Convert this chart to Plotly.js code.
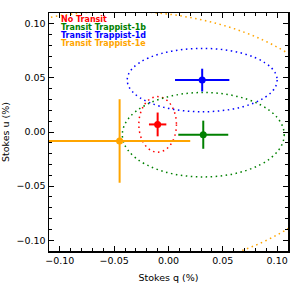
<!DOCTYPE html>
<html><head><meta charset="utf-8">
<script src="https://cdn.plot.ly/plotly-3.0.1.min.js"></script>
<style>html,body{margin:0;padding:0;background:#fff}</style>
</head><body><div id="chart" style="width:291px;height:291px"></div>
<script>
const names = ['No Transit', 'Transit Trappist-1b', 'Transit Trappist-1d', 'Transit Trappist-1e'];
const colors = ['#ff0000', '#008000', '#0000ff', '#ffa500'];
const qVals = [-0.010, 0.032, 0.031, -0.045];
const uVals = [0.007, -0.0025, 0.048, -0.0083];
const qErr = [0.008, 0.023, 0.025, 0.065];
const uErr = [0.011, 0.013, 0.0105, 0.0386];
const ellQ = [0.0173, 0.0745, 0.069, 0.21];
const ellU = [0.0257, 0.039, 0.0293, 0.12];
const tickVals = [-0.10, -0.05, 0.00, 0.05, 0.10];

const font = {family: 'DejaVu Sans', size: 9.5, color: '#000'};

const traces = names.map((n, i) => ({
  type: 'scatter', mode: 'markers', name: n,
  x: [qVals[i]], y: [uVals[i]],
  marker: {color: colors[i], size: 7},
  error_x: {type: 'data', array: [qErr[i]], color: colors[i], thickness: 2, width: 0},
  error_y: {type: 'data', array: [uErr[i]], color: colors[i], thickness: 2, width: 0},
  showlegend: false, cliponaxis: true
}));

const shapes = names.map((n, i) => ({
  type: 'circle', xref: 'x', yref: 'y', layer: 'below',
  x0: qVals[i] - ellQ[i], x1: qVals[i] + ellQ[i],
  y0: uVals[i] - ellU[i], y1: uVals[i] + ellU[i],
  line: {color: colors[i], width: 1.5, dash: '1.5px,3.5px'}
}));

const legendY = [0.9735, 0.94, 0.906, 0.872];
const annotations = names.map((n, i) => ({
  xref: 'paper', yref: 'paper', x: 0.046, y: legendY[i],
  xanchor: 'left', yanchor: 'middle', showarrow: false, borderpad: 0,
  text: '<b>' + n + '</b>',
  font: {family: 'DejaVu Sans', size: 8, color: colors[i]}
}));

const axisCommon = {
  range: [-0.11, 0.11], tickvals: tickVals, tickformat: '.2f',
  ticks: 'inside', ticklen: 5, tickwidth: 1, tickcolor: '#000',
  showline: true, linewidth: 1.5, linecolor: '#000', mirror: 'allticks',
  minor: {dtick: 0.01, tick0: 0, ticks: 'inside', ticklen: 3, tickwidth: 1, tickcolor: '#000'},
  showgrid: false, zeroline: false, tickfont: font, automargin: false
};

const layout = {
  width: 291, height: 291,
  margin: {l: 49, r: 3, t: 13, b: 40},
  paper_bgcolor: '#fff', plot_bgcolor: '#fff',
  xaxis: Object.assign({}, axisCommon, {title: {text: 'Stokes q (%)', font: font, standoff: 9}}),
  yaxis: Object.assign({}, axisCommon, {title: {text: 'Stokes u (%)', font: font, standoff: 8}}),
  shapes: shapes, annotations: annotations, showlegend: false
};

Plotly.newPlot('chart', traces, layout, {displayModeBar: false, staticPlot: true});
</script></body></html>
